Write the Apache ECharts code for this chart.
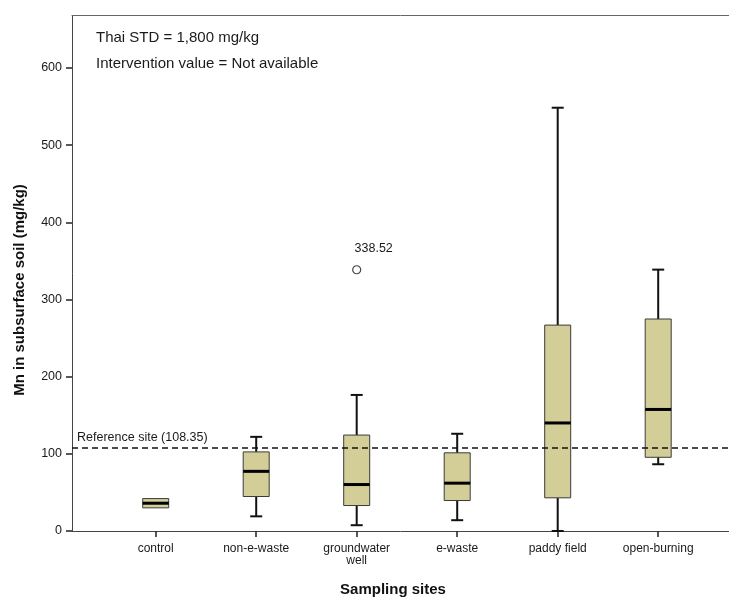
<!DOCTYPE html>
<html>
<head>
<meta charset="utf-8">
<script src="https://cdn.jsdelivr.net/npm/echarts@6/dist/echarts.min.js"></script>
<style>
html,body{margin:0;padding:0;background:#fff;}
#chart{width:729px;height:599px;}
</style>
</head>
<body>
<div id="chart"></div>
<script>
// ---- data ----
const categories = ['control', 'non-e-waste', 'groundwater\nwell', 'e-waste', 'paddy field', 'open-burning'];
const whiskerLow = [30, 19, 7.5, 14, 0, 86.5];
const quartile1 = [30, 44.7, 33, 39.5, 43, 95.5];
const medians = [36, 77.3, 60.2, 62, 140, 157.5];
const quartile3 = [42, 102.5, 124.3, 101.3, 266.8, 274.7];
const whiskerHigh = [42, 122, 176.3, 126, 548.5, 338.7];
const outlierCategory = [2];
const outlierValues = [338.52];
const referenceValue = 108.35;
const yTicks = [0, 100, 200, 300, 400, 500, 600];
const yMax = 668;
const noteLines = ['Thai STD = 1,800 mg/kg', 'Intervention value = Not available'];

// ---- build ----
const boxData = categories.map((c, i) => [i, whiskerLow[i], quartile1[i], medians[i], quartile3[i], whiskerHigh[i]]);
const outlierData = outlierCategory.map((c, i) => [c, outlierValues[i]]);
const FONT = '"Liberation Sans", Arial, sans-serif';
const boxFill = '#d3ce97';

const chart = echarts.init(document.getElementById('chart'), null, {renderer: 'canvas'});

function renderBox(params, api) {
  const i = api.value(0);
  const lo = api.coord([i, api.value(1)]);
  const q1 = api.coord([i, api.value(2)]);
  const md = api.coord([i, api.value(3)]);
  const q3 = api.coord([i, api.value(4)]);
  const hi = api.coord([i, api.value(5)]);
  const x = lo[0];
  const bw = 26, cw = 12;
  const wStyle = {stroke: '#111', lineWidth: 2};
  const children = [];
  if (hi[1] < q3[1] - 0.5) {
    children.push({type: 'line', shape: {x1: x, y1: q3[1], x2: x, y2: hi[1]}, style: wStyle});
    children.push({type: 'line', shape: {x1: x - cw / 2, y1: hi[1], x2: x + cw / 2, y2: hi[1]}, style: wStyle});
  }
  if (lo[1] > q1[1] + 0.5) {
    children.push({type: 'line', shape: {x1: x, y1: q1[1], x2: x, y2: lo[1]}, style: wStyle});
    children.push({type: 'line', shape: {x1: x - cw / 2, y1: lo[1], x2: x + cw / 2, y2: lo[1]}, style: wStyle});
  }
  children.push({type: 'rect', shape: {x: x - bw / 2, y: q3[1], width: bw, height: q1[1] - q3[1]},
    style: {fill: boxFill, stroke: '#3a3a3a', lineWidth: 1}});
  children.push({type: 'line', shape: {x1: x - bw / 2, y1: md[1], x2: x + bw / 2, y2: md[1]},
    style: {stroke: '#000', lineWidth: 3}});
  return {type: 'group', children: children};
}

const option = {
  animation: false,
  backgroundColor: '#fff',
  grid: [
    {left: 72, right: -13, top: 15.5, bottom: 68},
    {left: 105.45, right: 20.55, top: 15.5, bottom: 68}
  ],
  xAxis: [
    {gridIndex: 0, type: 'value', min: 0, max: 1, position: 'bottom',
      axisLine: {show: true, lineStyle: {color: '#444', width: 1}},
      axisTick: {show: false}, axisLabel: {show: false}, splitLine: {show: false}},
    {gridIndex: 1, type: 'category', data: categories, boundaryGap: true,
      axisLine: {show: false},
      axisTick: {show: true, alignWithLabel: true, length: 6, lineStyle: {color: '#222', width: 1.5}},
      axisLabel: {margin: 12, fontFamily: FONT, fontSize: 12, color: '#1a1a1a', lineHeight: 12, interval: 0},
      splitLine: {show: false}},
    {gridIndex: 0, type: 'value', min: 0, max: 1, position: 'top',
      axisLine: {show: true, onZero: false, lineStyle: {color: '#666', width: 1}},
      axisTick: {show: false}, axisLabel: {show: false}, splitLine: {show: false}}
  ],
  yAxis: [
    {gridIndex: 0, type: 'value', min: 0, max: yMax,
      axisLine: {show: true, lineStyle: {color: '#444', width: 1}},
      axisTick: {show: true, length: 6, customValues: yTicks, lineStyle: {color: '#222', width: 1.5}},
      axisLabel: {margin: 10, customValues: yTicks, fontFamily: FONT, fontSize: 12.5, color: '#1a1a1a'},
      splitLine: {show: false}},
    {gridIndex: 1, type: 'value', min: 0, max: yMax, show: false, splitLine: {show: false}}
  ],
  series: [
    {type: 'custom', xAxisIndex: 1, yAxisIndex: 1, data: boxData, renderItem: renderBox,
      encode: {x: 0, y: [1, 2, 3, 4, 5]}, z: 2},
    {type: 'scatter', xAxisIndex: 1, yAxisIndex: 1, data: outlierData, symbol: 'circle', symbolSize: 8,
      itemStyle: {color: '#fff', borderColor: '#444', borderWidth: 1.2, opacity: 1},
      label: {show: true, position: 'top', offset: [17, -5], formatter: (p) => p.value[1].toFixed(2),
        fontFamily: FONT, fontSize: 12.5, color: '#1a1a1a'}, z: 3},
    {type: 'line', xAxisIndex: 0, yAxisIndex: 0, data: [], z: 5,
      markLine: {silent: true, symbol: ['none', 'none'],
        lineStyle: {type: [6, 4], color: '#111', width: 1.5},
        label: {show: true, position: 'insideStartTop', distance: [5, 3], formatter: 'Reference site (' + referenceValue + ')',
          fontFamily: FONT, fontSize: 12.5, color: '#1a1a1a'},
        data: [{yAxis: referenceValue}]}}
  ],
  graphic: [
    {type: 'text', x: 96, y: 38, style: {text: noteLines[0], font: '15px ' + FONT, fill: '#1a1a1a', align: 'left', verticalAlign: 'middle', textAlign: 'left', textVerticalAlign: 'middle'}},
    {type: 'text', x: 96, y: 64, style: {text: noteLines[1], font: '15px ' + FONT, fill: '#1a1a1a', align: 'left', verticalAlign: 'middle', textAlign: 'left', textVerticalAlign: 'middle'}},
    {type: 'text', x: 20, y: 290, rotation: Math.PI / 2, style: {text: 'Mn in subsurface soil (mg/kg)', font: 'bold 15px ' + FONT, fill: '#111', align: 'center', verticalAlign: 'middle', textAlign: 'center', textVerticalAlign: 'middle'}},
    {type: 'text', x: 393, y: 590, style: {text: 'Sampling sites', font: 'bold 15px ' + FONT, fill: '#111', align: 'center', verticalAlign: 'middle', textAlign: 'center', textVerticalAlign: 'middle'}}
  ]
};
chart.setOption(option);
</script>
</body>
</html>
